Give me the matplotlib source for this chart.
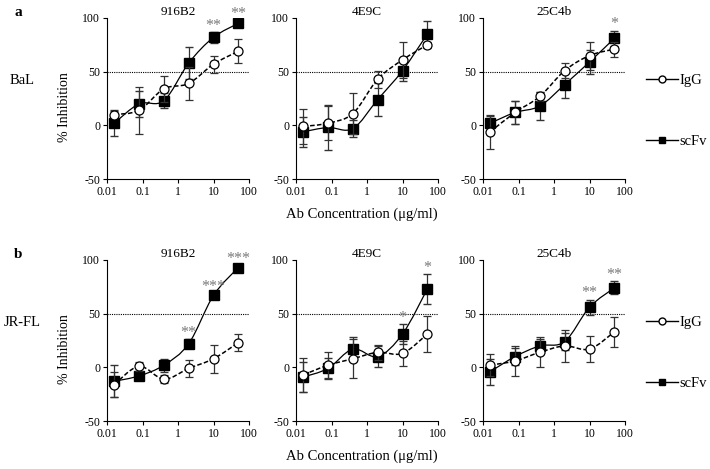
import numpy as np
import matplotlib
matplotlib.use('Agg')
import matplotlib.pyplot as plt
from matplotlib.path import Path
from matplotlib.patches import PathPatch
from matplotlib.lines import Line2D

plt.rcParams['font.family'] = ['Liberation Serif', 'DejaVu Serif']
plt.rcParams['axes.unicode_minus'] = False

# antibody concentration (ug/ml), 5-fold dilutions
conc = [0.016, 0.08, 0.4, 2, 10, 50]

viruses = ['BaL', 'JR-FL']
row_tags = ['a', 'b']
antibodies = ['916B2', '4E9C', '25C4b']

# % inhibition, [virus][antibody]
igg_mean = [
    [[10, 14, 34, 39, 57, 69],
     [-1, 2, 11, 43, 61, 75],
     [-6, 12, 27, 51, 65, 71]],
    [[-16, 1, -11, -1, 8, 23],
     [-7, 2, 8, 14, 13, 31],
     [2, 6, 14, 20, 17, 33]],
]
igg_err = [
    [[3, 22, 12, 15, 8, 11],
     [16, 16, 19, 8, 17, 3],
     [16, 11, 4, 7, 13, 7]],
    [[12, 4, 4, 8, 13, 8],
     [16, 12, 18, 7, 12, 17],
     [10, 14, 14, 15, 12, 14]],
]
scfv_mean = [
    [[2, 20, 23, 58, 82, 95],
     [-6, -2, -3, 24, 51, 85],
     [2, 12, 18, 38, 59, 81]],
    [[-13, -8, 2, 22, 67, 93],
     [-9, -1, 17, 10, 31, 73],
     [-4, 10, 20, 24, 56, 74]],
]
scfv_err = [
    [[12, 12, 7, 15, 5, 3],
     [14, 21, 8, 15, 10, 12],
     [7, 11, 13, 13, 11, 7]],
    [[15, 4, 6, 4, 2, 2],
     [14, 10, 11, 10, 9, 14],
     [12, 8, 6, 8, 7, 6]],
]
# significance marks above scFv points (index of point -> label)
stars = [
    [{4: '**', 5: '**'}, {}, {5: '*'}],
    [{3: '**', 4: '***', 5: '***'}, {4: '*', 5: '*'}, {4: '**', 5: '**'}],
]


def smooth_path(x, y):
    # Excel-style smoothed line: cubic Bezier through the points, in log-x space
    pts = np.column_stack([np.log10(x), y]).astype(float)
    n = len(pts)
    verts = [pts[0]]
    codes = [Path.MOVETO]
    for i in range(n - 1):
        p0 = pts[max(i - 1, 0)]
        p1 = pts[i]
        p2 = pts[i + 1]
        p3 = pts[min(i + 2, n - 1)]
        verts += [p1 + (p2 - p0) / 6, p2 - (p3 - p1) / 6, p2]
        codes += [Path.CURVE4] * 3
    verts = np.array(verts)
    verts[:, 0] = 10 ** verts[:, 0]
    return Path(verts, codes)


W, H = 710, 469
fig = plt.figure(figsize=(W / 100, H / 100), dpi=100)

lefts = [107, 296, 483]
tops = [18, 260]
pw, ph = 142, 161

for r in range(2):
    for c in range(3):
        ax = fig.add_axes([lefts[c] / W, 1 - (tops[r] + ph) / H, pw / W, ph / H])
        ax.set_xscale('log')
        ax.set_xlim(0.01, 100)
        ax.set_ylim(-50, 100)
        ax.axhline(50, color='black', lw=0.8, ls=(0, (1, 1)), zorder=1)

        im, ie = igg_mean[r][c], igg_err[r][c]
        sm, se = scfv_mean[r][c], scfv_err[r][c]

        ax.add_patch(PathPatch(smooth_path(conc, im), fill=False, ec='black',
                               lw=1.1, ls=(0, (3, 1.5)), zorder=2))
        ax.add_patch(PathPatch(smooth_path(conc, sm), fill=False, ec='black',
                               lw=0.9, zorder=2))

        ax.errorbar(conc, im, yerr=ie, fmt='o', ms=6.5, mfc='white', mec='black',
                    mew=0.9, ecolor='#333333', elinewidth=0.9, capsize=3, zorder=4)
        ax.errorbar(conc, sm, yerr=se, fmt='s', ms=6.5, mfc='black', mec='black',
                    ecolor='#333333', elinewidth=0.9, capsize=3, zorder=3)

        for i, s in stars[r][c].items():
            ax.text(conc[i], sm[i] + se[i] + 6, s, ha='center', va='center',
                    fontsize=11.5, color='#7a7a7a')

        ax.set_title(antibodies[c], fontsize=9.5, pad=0.5)
        ax.set_xticks([0.01, 0.1, 1, 10, 100])
        ax.set_xticklabels(['0.01', '0.1', '1', '10', '100'])
        ax.set_yticks([-50, 0, 50, 100])
        ax.minorticks_off()
        ax.tick_params(direction='out', length=3, width=0.8, labelsize=8.5, pad=2)
        for sp in ['top', 'right']:
            ax.spines[sp].set_visible(False)
        for sp in ['left', 'bottom']:
            ax.spines[sp].set_linewidth(0.8)

    # row labels
    fig.text(18 / W, 1 - (tops[r] - 6) / H, row_tags[r], fontsize=11,
             fontweight='bold', ha='center', va='center')
    fig.text(22 / W, 1 - (tops[r] + 62) / H, viruses[r], fontsize=10.5,
             ha='center', va='center')
    fig.text(65 / W, 1 - (tops[r] + 89) / H, '% Inhibition', fontsize=10,
             rotation=90, ha='center', va='center')
    fig.text(362 / W, 1 - (tops[r] + 196) / H, 'Ab Concentration (\u03bcg/ml)',
             fontsize=10.5, ha='center', va='center')

    handles = [
        Line2D([], [], color='black', lw=1, marker='o', ms=5, mfc='white', mec='black'),
        Line2D([], [], color='black', lw=1, marker='s', ms=4.5, mfc='black'),
    ]
    fig.legend(handles, ['IgG', 'scFv'], loc='upper left',
               bbox_to_anchor=(640 / W, 1 - (tops[r] + 50) / H),
               frameon=False, fontsize=10.5, handlelength=2.2, handletextpad=0.1,
               labelspacing=3.3, borderaxespad=0)

fig.savefig('out.png', dpi=100)
